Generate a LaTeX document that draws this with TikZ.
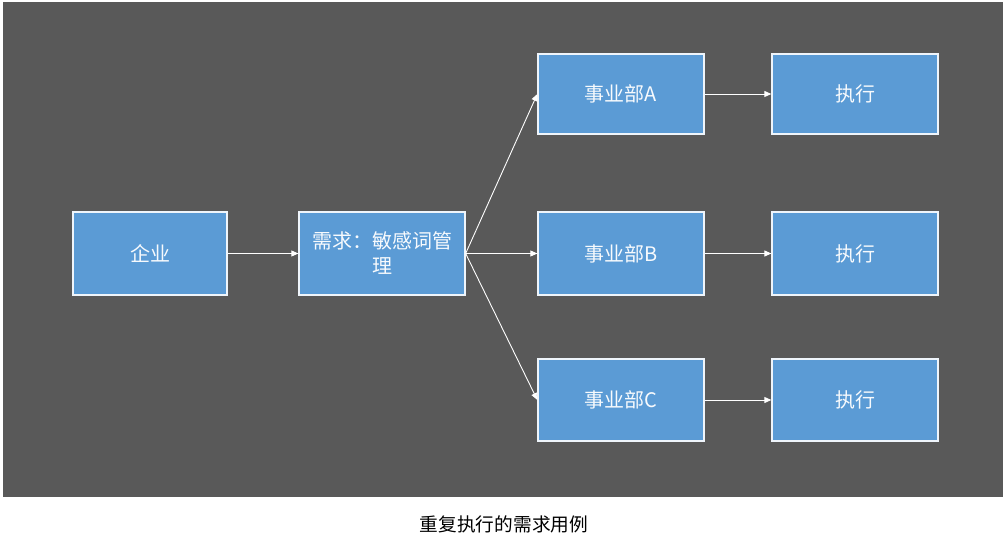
\documentclass[tikz,border=0pt]{standalone}
\usepackage{fontspec}
\setmainfont{Noto Sans CJK SC}
\usetikzlibrary{arrows.meta}
\definecolor{bg}{HTML}{595959}
\definecolor{boxfill}{HTML}{5B9BD5}
\tikzset{
  box/.style={draw=white!90!boxfill, line width=1.3pt, fill=boxfill, text=white!95!boxfill,
    minimum width=166pt, minimum height=82pt, inner sep=0pt, align=center,
    font=\fontsize{20}{25}\selectfont},
  conn/.style={draw=white, line width=0.9pt, -{Triangle[length=7pt,width=6pt]}}
}
\begin{document}
\begin{tikzpicture}[x=1pt,y=-1pt]
\useasboundingbox (0,0) rectangle (1007,556);
\fill[white] (0,0) rectangle (1007,556);
\fill[bg] (3,2) rectangle (1003,497);
\node[box, minimum width=154pt, minimum height=83pt] (qy) at (150,253.5) {企业};
\node[box, minimum height=83pt] (xq) at (382,253.5) {需求：敏感词管\\理};
\node[box, minimum height=80pt] (a) at (621,94) {事业部A};
\node[box, minimum height=83pt] (b) at (621,253.5) {事业部B};
\node[box] (c) at (621,400) {事业部C};
\node[box, minimum height=80pt] (ea) at (855,94) {执行};
\node[box, minimum height=83pt] (eb) at (855,253.5) {执行};
\node[box] (ec) at (855,400) {执行};
\node[font=\fontsize{18.7}{22}\selectfont, text=black] (cap) at (504,524) {重复执行的需求用例};
\draw[conn] (qy.east) -- (xq.west);
\draw[conn] (xq.east) -- (a.west);
\draw[conn] (xq.east) -- (b.west);
\draw[conn] (xq.east) -- (c.west);
\draw[conn] (a.east) -- (ea.west);
\draw[conn] (b.east) -- (eb.west);
\draw[conn] (c.east) -- (ec.west);
\end{tikzpicture}
\end{document}
